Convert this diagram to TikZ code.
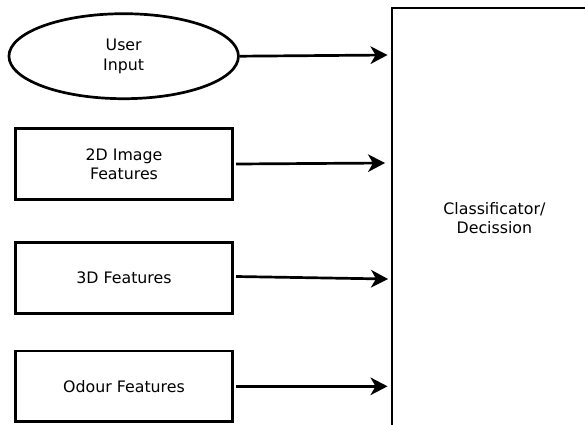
\documentclass[tikz,border=0pt]{standalone}
\usepackage{fontspec}
\setmainfont{DejaVu Sans}
\usetikzlibrary{shapes.geometric,arrows.meta}

\tikzset{
  txt/.style={font=\fontsize{15.8pt}{19.5pt}\selectfont},
  block/.style={draw, line width=2.7pt, rectangle, minimum width=217.3pt,
    minimum height=70.5pt, inner sep=0pt, align=center, txt},
  oval/.style={draw, line width=2.7pt, ellipse, minimum width=229.5pt,
    minimum height=85pt, inner sep=0pt, align=center, txt},
  feed/.style={line width=2.7pt, -{Stealth[length=17pt,width=17.5pt,inset=5pt]}}
}

\begin{document}
\begin{tikzpicture}[x=1pt,y=-1pt]
  \useasboundingbox (0,0) rectangle (585,424);

  % input sources
  \node[oval]  (user)  at (123.7,56.2) {User\\Input};
  \node[block] (img)   at (124,164)    {2D Image\\Features};
  \node[block] (three) at (124,278)    {3D Features};
  \node[block] (odour) at (124,386.3)  {Odour Features};

  % classifier block, running past the right and bottom edges
  \node[draw, line width=2.7pt, rectangle, minimum width=205pt,
        minimum height=420pt, inner sep=0pt, align=center, txt]
        (clf) at (494.4,218) {Classificator/\\Decission};

  % feature connections
  \draw[feed] (user.east)  -- ([xshift=-3pt,yshift=1.2pt]clf.west |- user.east);
  \draw[feed] ([xshift=2pt]img.east) -- ([xshift=-5.5pt,yshift=1pt]clf.west |- img.east);
  \draw[feed] ([xshift=2pt,yshift=1.5pt]three.east) -- ([xshift=-2.5pt,yshift=-1pt]clf.west |- three.east);
  \draw[feed] ([xshift=2pt]odour.east) -- ([xshift=-3pt]clf.west |- odour.east);
\end{tikzpicture}
\end{document}
